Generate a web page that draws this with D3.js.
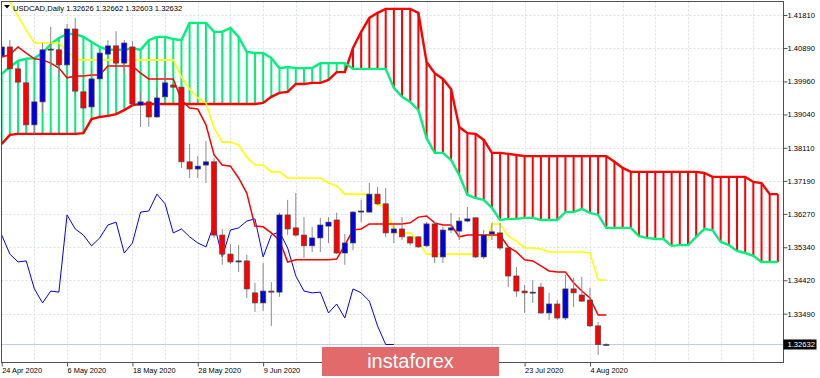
<!DOCTYPE html>
<html>
<head>
<meta charset="utf-8">
<script src="https://cdn.jsdelivr.net/npm/d3@7"></script>
<style>
  html, body { margin: 0; padding: 0; background: #fff; }
  svg { display: block; }
  text { font-family: "Liberation Sans", Arial, sans-serif; }
</style>
</head>
<body>
<svg id="chart" width="820" height="378"></svg>
<script>
// --- Data (bar 0 = 24 Apr 2020) ---
const symbolTitle = "USDCAD,Daily";
const lastQuote = [1.32626, 1.32662, 1.32603, 1.32632];

// labels under the watermark (19 Jun, 1 Jul, 13 Jul) are not visible, so left out
const dateIdx = [0, 8, 16, 24, 32, 64, 72];
const dateLabels = ["24 Apr 2020", "6 May 2020", "18 May 2020", "28 May 2020", "9 Jun 2020",
                    "23 Jul 2020", "4 Aug 2020"];
const priceTicks = [1.41810, 1.40890, 1.39960, 1.39040, 1.38110, 1.37190, 1.36270, 1.35340, 1.34420, 1.33490];

const opens = [1.4067, 1.4092, 1.4031, 1.3992, 1.3875, 1.3939, 1.4084, 1.4084, 1.4042, 1.4142,
  1.3967, 1.3925, 1.4003, 1.4072, 1.4095, 1.4047, 1.4092, 1.3930, 1.3939, 1.3897,
  1.3953, 1.3986, 1.3980, 1.3772, 1.3752, 1.3763, 1.3772, 1.3568, 1.3515, 1.3493,
  1.3496, 1.3407, 1.3379, 1.3412, 1.3409, 1.3624, 1.3588, 1.3568, 1.3538, 1.3560,
  1.3593, 1.3610, 1.3518, 1.3546, 1.3632, 1.3632, 1.3682, 1.3655, 1.3574, 1.3585,
  1.3563, 1.3563, 1.3538, 1.3599, 1.3507, 1.3582, 1.3579, 1.3607, 1.3616, 1.3507,
  1.3571, 1.3574, 1.3532, 1.3454, 1.3412, 1.3407, 1.3423, 1.3351, 1.3376, 1.3337,
  1.3418, 1.3401, 1.3387, 1.3315, 1.32626];
const highs = [1.4100, 1.4111, 1.4033, 1.3994, 1.3944, 1.4103, 1.4148, 1.4092, 1.4156, 1.4173,
  1.4008, 1.4033, 1.4084, 1.4111, 1.4136, 1.4111, 1.4109, 1.3967, 1.3944, 1.3975,
  1.4022, 1.3989, 1.3983, 1.3822, 1.3788, 1.3830, 1.3783, 1.3585, 1.3543, 1.3540,
  1.3513, 1.3435, 1.3490, 1.3437, 1.3630, 1.3666, 1.3685, 1.3618, 1.3591, 1.3616,
  1.3618, 1.3630, 1.3571, 1.3635, 1.3666, 1.3713, 1.3702, 1.3699, 1.3596, 1.3618,
  1.3565, 1.3565, 1.3604, 1.3604, 1.3591, 1.3630, 1.3618, 1.3646, 1.3618, 1.3582,
  1.3602, 1.3602, 1.3532, 1.3479, 1.3429, 1.3443, 1.3435, 1.3407, 1.3387, 1.3457,
  1.3448, 1.3451, 1.3421, 1.3326, 1.32662];
const lows = [1.4061, 1.4028, 1.3992, 1.3869, 1.3850, 1.3911, 1.4036, 1.4008, 1.4039, 1.3953,
  1.3919, 1.3908, 1.3994, 1.4070, 1.4045, 1.4019, 1.3930, 1.3869, 1.3869, 1.3894,
  1.3944, 1.3978, 1.3755, 1.3727, 1.3727, 1.3713, 1.3560, 1.3485, 1.3487, 1.3465,
  1.3393, 1.3354, 1.3357, 1.3315, 1.3396, 1.3568, 1.3563, 1.3504, 1.3521, 1.3521,
  1.3546, 1.3515, 1.3485, 1.3526, 1.3604, 1.3630, 1.3652, 1.3563, 1.3546, 1.3554,
  1.3540, 1.3532, 1.3535, 1.3490, 1.3490, 1.3574, 1.3554, 1.3604, 1.3504, 1.3501,
  1.3554, 1.3526, 1.3423, 1.3396, 1.3351, 1.3379, 1.3348, 1.3331, 1.3331, 1.3331,
  1.3368, 1.3382, 1.3312, 1.3234, 1.32603];
const closes = [1.4092, 1.4031, 1.3994, 1.3875, 1.3939, 1.4084, 1.4086, 1.4042, 1.4142, 1.3969,
  1.3922, 1.4003, 1.4075, 1.4095, 1.4047, 1.4103, 1.3933, 1.3939, 1.3897, 1.3950,
  1.3992, 1.3980, 1.3772, 1.3752, 1.3760, 1.3772, 1.3568, 1.3515, 1.3493, 1.3496,
  1.3418, 1.3379, 1.3412, 1.3409, 1.3624, 1.3585, 1.3568, 1.3538, 1.3560, 1.3596,
  1.3604, 1.3518, 1.3546, 1.3632, 1.3635, 1.3682, 1.3655, 1.3574, 1.3585, 1.3563,
  1.3546, 1.3535, 1.3599, 1.3507, 1.3582, 1.3588, 1.3607, 1.3613, 1.3507, 1.3568,
  1.3577, 1.3532, 1.3454, 1.3412, 1.3407, 1.3409, 1.3351, 1.3376, 1.3337, 1.3418,
  1.3407, 1.3384, 1.3315, 1.3263, 1.32632];

// Ichimoku lines
const tenkan = [1.4064, 1.4070, 1.4092, 1.4075, 1.4059, 1.4056, 1.4047, 1.4033, 1.4006, 1.4011,
  1.4011, 1.4014, 1.4014, 1.4039, 1.4039, 1.4039, 1.4039, 1.4019, 1.4003, 1.4003,
  1.4003, 1.4003, 1.3944, 1.3922, 1.3919, 1.3875, 1.3791, 1.3763, 1.3760, 1.3727,
  1.3685, 1.3593, 1.3591, 1.3574, 1.3554, 1.3493, 1.3499, 1.3499, 1.3499, 1.3499,
  1.3499, 1.3501, 1.3540, 1.3582, 1.3585, 1.3599, 1.3599, 1.3599, 1.3599, 1.3599,
  1.3602, 1.3618, 1.3621, 1.3602, 1.3596, 1.3596, 1.3563, 1.3568, 1.3568, 1.3568,
  1.3568, 1.3568, 1.3535, 1.3521, 1.3499, 1.3496, 1.3482, 1.3468, 1.3465, 1.3465,
  1.3435, 1.3412, 1.3393, 1.3345, 1.3345];
const kijun = [1.4256, 1.4217, 1.4178, 1.4139, 1.4103, 1.4103, 1.4103, 1.4103, 1.4081, 1.4058,
  1.4056, 1.4056, 1.4056, 1.4056, 1.4056, 1.4056, 1.4056, 1.4056, 1.4056, 1.4056,
  1.4056, 1.4056, 1.4008, 1.3975, 1.3950, 1.3936, 1.3866, 1.3827, 1.3827, 1.3819,
  1.3785, 1.3763, 1.3763, 1.3744, 1.3744, 1.3727, 1.3727, 1.3727, 1.3727, 1.3727,
  1.3713, 1.3705, 1.3682, 1.3682, 1.3682, 1.3682, 1.3652, 1.3649, 1.3577, 1.3574,
  1.3574, 1.3549, 1.3515, 1.3515, 1.3515, 1.3515, 1.3515, 1.3515, 1.3515, 1.3515,
  1.3599, 1.3599, 1.3565, 1.3551, 1.3532, 1.3532, 1.3529, 1.3521, 1.3521, 1.3521,
  1.3521, 1.3521, 1.3518, 1.3443, 1.3443];
// lagging span, starts at bar 0
const chikou = [1.3568, 1.3515, 1.3493, 1.3496, 1.3418, 1.3379, 1.3412, 1.3409, 1.3624, 1.3585,
  1.3568, 1.3538, 1.3560, 1.3596, 1.3604, 1.3518, 1.3546, 1.3632, 1.3635, 1.3682,
  1.3655, 1.3574, 1.3585, 1.3563, 1.3546, 1.3535, 1.3599, 1.3507, 1.3582, 1.3588,
  1.3607, 1.3613, 1.3507, 1.3568, 1.3577, 1.3532, 1.3454, 1.3412, 1.3407, 1.3409,
  1.3351, 1.3376, 1.3337, 1.3418, 1.3407, 1.3384, 1.3315, 1.3263, 1.32632];
// cloud, bars 0..95
const spanA = [1.4017, 1.4036, 1.4053, 1.4059, 1.4061, 1.4075, 1.4100, 1.4117, 1.4128, 1.4128,
  1.4120, 1.4106, 1.4092, 1.4084, 1.4084, 1.4084, 1.4089, 1.4084, 1.4111, 1.4120,
  1.4120, 1.4114, 1.4111, 1.4159, 1.4159, 1.4159, 1.4134, 1.4134, 1.4145, 1.4120,
  1.4078, 1.4075, 1.4075, 1.4061, 1.4033, 1.4036, 1.4033, 1.4033, 1.4033, 1.4047,
  1.4047, 1.4047, 1.4047, 1.4031, 1.4031, 1.4031, 1.4031, 1.4031, 1.3978, 1.3953,
  1.3939, 1.3916, 1.3838, 1.3797, 1.3797, 1.3777, 1.3735, 1.3680, 1.3671, 1.3666,
  1.3644, 1.3610, 1.3613, 1.3613, 1.3616, 1.3616, 1.3610, 1.3610, 1.3610, 1.3632,
  1.3632, 1.3641, 1.3630, 1.3624, 1.3588, 1.3588, 1.3588, 1.3588, 1.3565, 1.3560,
  1.3557, 1.3557, 1.3538, 1.3540, 1.3540, 1.3563, 1.3585, 1.3582, 1.3549, 1.3540,
  1.3524, 1.3518, 1.3510, 1.3493, 1.3493, 1.3493];
const spanB = [1.3822, 1.3847, 1.3850, 1.3850, 1.3850, 1.3850, 1.3850, 1.3850, 1.3850, 1.3850,
  1.3852, 1.3891, 1.3897, 1.3900, 1.3905, 1.3916, 1.3930, 1.3933, 1.3933, 1.3933,
  1.3933, 1.3933, 1.3933, 1.3933, 1.3933, 1.3933, 1.3933, 1.3933, 1.3933, 1.3933,
  1.3933, 1.3933, 1.3936, 1.3953, 1.3964, 1.3967, 1.3989, 1.3989, 1.3992, 1.3992,
  1.4000, 1.4022, 1.4022, 1.4089, 1.4134, 1.4173, 1.4187, 1.4198, 1.4198, 1.4198,
  1.4198, 1.4187, 1.4050, 1.4019, 1.4003, 1.3975, 1.3869, 1.3852, 1.3850, 1.3833,
  1.3797, 1.3797, 1.3794, 1.3791, 1.3788, 1.3788, 1.3788, 1.3788, 1.3788, 1.3788,
  1.3788, 1.3788, 1.3788, 1.3788, 1.3788, 1.3772, 1.3755, 1.3744, 1.3744, 1.3744,
  1.3744, 1.3744, 1.3744, 1.3744, 1.3744, 1.3744, 1.3741, 1.3730, 1.3730, 1.3730,
  1.3730, 1.3730, 1.3716, 1.3713, 1.3682, 1.3682];

// --- Setup ---
const svg = d3.select("#chart");
const plot = { left: 1.5, right: 783.5, top: 1.5, bottom: 362.5 };

const x = d3.scaleLinear().domain([0, 95]).range([1.7, 777.85]);
const y = d3.scaleLinear().domain([1.32144, 1.42200]).range([362, 1]);

const colors = {
  grid: "#dcdfee", bid: "#c4c7e2", frame: "#505050",
  green: "#00f07c", red: "#ff0000", yellow: "#ffff00", blue: "#0000ff",
  bull: "#0000e0", bear: "#ff0000", wick: "#8a8a8a", outline: "#4a4a4a"
};

svg.append("defs").append("clipPath").attr("id", "plot-clip")
  .append("rect")
  .attr("x", plot.left + 0.5).attr("y", plot.top + 0.5)
  .attr("width", plot.right - plot.left - 1).attr("height", plot.bottom - plot.top - 1);

// --- Grid ---
const grid = svg.append("g");
grid.selectAll(".hg").data(priceTicks).join("line")
  .attr("x1", plot.left).attr("x2", plot.right)
  .attr("y1", d => Math.round(y(d)) + 0.5).attr("y2", d => Math.round(y(d)) + 0.5)
  .attr("stroke", colors.grid).attr("stroke-dasharray", "2,2");
grid.selectAll(".vg").data(d3.range(4, 96, 4)).join("line")
  .attr("x1", d => Math.round(x(d)) + 0.5).attr("x2", d => Math.round(x(d)) + 0.5)
  .attr("y1", plot.top).attr("y2", plot.bottom)
  .attr("stroke", colors.grid).attr("stroke-dasharray", "2,2");

const g = svg.append("g").attr("clip-path", "url(#plot-clip)");

// bid line
g.append("line")
  .attr("x1", plot.left).attr("x2", plot.right)
  .attr("y1", y(lastQuote[3])).attr("y2", y(lastQuote[3]))
  .attr("stroke", colors.bid);

// --- Cloud hatch ---
const cloudIdx = d3.range(spanA.length);
g.selectAll(".hatch").data(cloudIdx).join("line")
  .attr("x1", i => x(i)).attr("x2", i => x(i))
  .attr("y1", i => y(spanA[i])).attr("y2", i => y(spanB[i]))
  .attr("stroke", i => spanA[i] >= spanB[i] ? colors.green : colors.red)
  .attr("stroke-width", 2);

const lineOf = arr => d3.line().x((d, i) => x(i)).y(d => y(d))(arr);

g.append("path").attr("d", lineOf(spanB)).attr("fill", "none")
  .attr("stroke", colors.red).attr("stroke-width", 2.4);
g.append("path").attr("d", lineOf(spanA)).attr("fill", "none")
  .attr("stroke", colors.green).attr("stroke-width", 2.4);

// tenkan, kijun, chikou
g.append("path").attr("d", lineOf(chikou)).attr("fill", "none")
  .attr("stroke", colors.blue).attr("stroke-width", 1);
g.append("path").attr("d", lineOf(kijun)).attr("fill", "none")
  .attr("stroke", colors.yellow).attr("stroke-width", 1.6);
g.append("path").attr("d", lineOf(tenkan)).attr("fill", "none")
  .attr("stroke", colors.red).attr("stroke-width", 1.5);

// --- Candles ---
const bars = d3.range(opens.length);
const candle = g.selectAll(".candle").data(bars).join("g");
candle.append("line")
  .attr("x1", i => x(i)).attr("x2", i => x(i))
  .attr("y1", i => y(highs[i])).attr("y2", i => y(lows[i]))
  .attr("stroke", colors.wick);
candle.append("rect")
  .attr("x", i => x(i) - 2.6)
  .attr("width", 5.2)
  .attr("y", i => y(Math.max(opens[i], closes[i])))
  .attr("height", i => Math.max(1, Math.abs(y(opens[i]) - y(closes[i]))))
  .attr("fill", i => closes[i] >= opens[i] ? colors.bull : colors.bear)
  .attr("stroke", colors.outline).attr("stroke-width", 0.7);

// --- Frame ---
svg.append("rect")
  .attr("x", plot.left).attr("y", plot.top)
  .attr("width", plot.right - plot.left).attr("height", plot.bottom - plot.top)
  .attr("fill", "none").attr("stroke", colors.frame);

// --- Axes ---
const yAxis = svg.append("g")
  .attr("transform", `translate(${plot.right},0)`)
  .call(d3.axisRight(y).tickValues(priceTicks).tickSize(4).tickPadding(0)
    .tickFormat(d3.format(".5f")));
yAxis.select(".domain").remove();
yAxis.selectAll("line").attr("stroke", colors.frame);
yAxis.selectAll("text").style("font-size", "7.6px").attr("fill", "#000");

const xAxis = svg.append("g")
  .attr("transform", `translate(0,${plot.bottom})`)
  .call(d3.axisBottom(x).tickValues(dateIdx).tickSize(4).tickPadding(0)
    .tickFormat((d, i) => dateLabels[i]));
xAxis.select(".domain").remove();
xAxis.selectAll("line").attr("stroke", colors.frame);
xAxis.selectAll("text")
  .attr("text-anchor", "start").attr("x", 0).attr("y", 5).attr("dy", "0.71em")
  .style("font-size", "7.4px").attr("fill", "#000");

// current price box
const yq = y(lastQuote[3]);
svg.append("rect").attr("x", plot.right).attr("y", yq - 5)
  .attr("width", 33).attr("height", 10).attr("fill", "#000");
svg.append("text").attr("x", plot.right + 4).attr("y", yq).attr("dy", "0.35em")
  .style("font-size", "7.6px").attr("fill", "#fff")
  .text(d3.format(".5f")(lastQuote[3]));

// --- Header ---
svg.append("path").attr("d", "M4,5 L10,5 L7,8.5 Z").attr("fill", "#000");
svg.append("text").attr("x", 13).attr("y", 10.5)
  .style("font-size", "7.6px").attr("fill", "#000")
  .text(`${symbolTitle}  ${lastQuote.map(d3.format(".5f")).join(" ")}`);

// --- Watermark ---
svg.append("rect").attr("x", 322).attr("y", 347).attr("width", 177).attr("height", 29)
  .attr("fill", "#e26a6a");
svg.append("text").attr("x", 410.5).attr("y", 368).attr("text-anchor", "middle")
  .style("font-size", "20px").attr("fill", "#fff").text("instaforex");
</script>
</body>
</html>
